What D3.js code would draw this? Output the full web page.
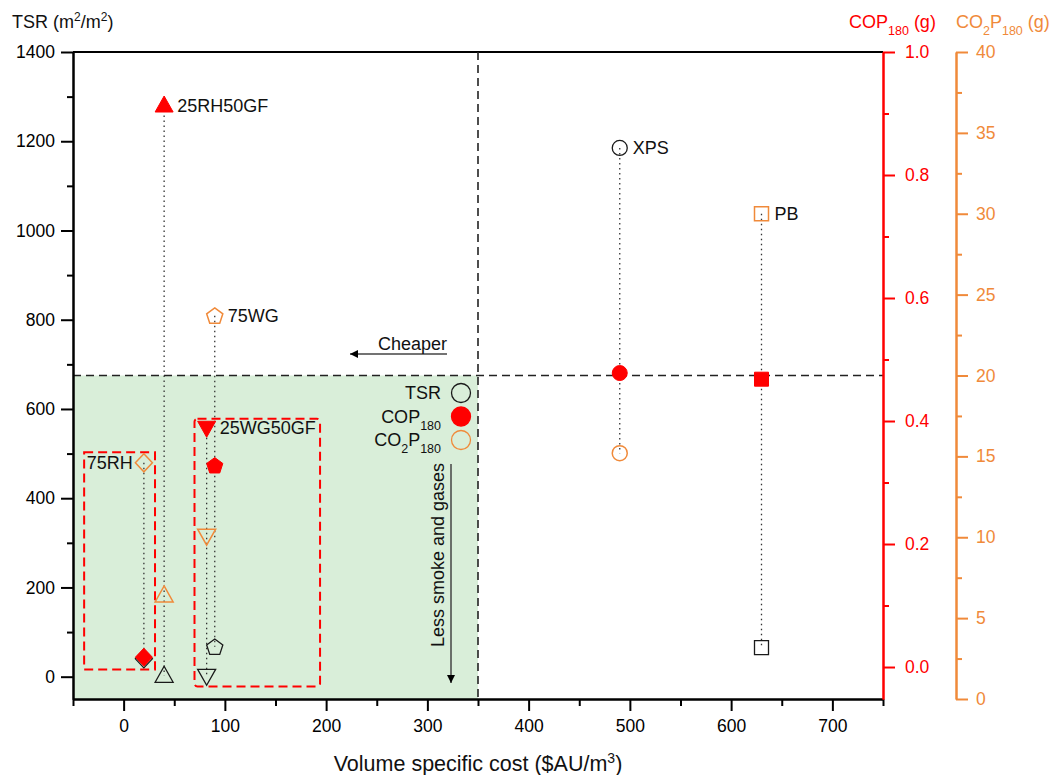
<!DOCTYPE html>
<html>
<head>
<meta charset="utf-8">
<script src="https://cdn.jsdelivr.net/npm/d3@7"></script>
<style>
  body { margin: 0; background: #fff; }
  svg { font-family: "Liberation Sans", Arial, sans-serif; }
</style>
</head>
<body>
<svg width="1051" height="775"></svg>
<script>
// Data
const materials = ['75RH', '25RH50GF', '75WG', '25WG50GF', 'XPS', 'PB'];
const shapes = ['diamond', 'triangle', 'pentagon', 'triangleDown', 'circle', 'square'];
const cost = [20, 40, 90, 82, 490, 630];
const tsr = [40, 2, 67, 2, 1185, 65];
const cop = [0.016, 0.913, 0.328, 0.389, 0.478, 0.468];
const co2p = [14.6, 6.4, 23.7, 10.1, 15.2, 30.0];
const labelSide = ['left', 'right', 'right', 'right', 'right', 'right'];

const xTicks = [0, 100, 200, 300, 400, 500, 600, 700];
const tsrTicks = [0, 200, 400, 600, 800, 1000, 1200, 1400];
const copTicks = [0, 0.2, 0.4, 0.6, 0.8, 1.0];
const co2pTicks = [0, 5, 10, 15, 20, 25, 30, 35, 40];

const costLimit = 350;   // vertical dashed line
const co2pLimit = 20;    // horizontal dashed line

// boxes around the wood-fibre samples [x0, x1, tsr0, tsr1]
const boxes = [[-39, 31, 16, 503], [70, 194, -22, 578]];

const width = 1051;
const height = 775;
const padding = { top: 52, right: 168, bottom: 76, left: 73 };
const svg = d3.select('svg');
const RED = '#ff0000';
const ORANGE = '#f08a3a';
const BLACK = '#1a1a1a';
const FS = '18px';

const xScale = d3.scaleLinear()
    .domain([-50, 750])
    .range([padding.left, width - padding.right]);
const yTsr = d3.scaleLinear()
    .domain([-50, 1400])
    .range([height - padding.bottom, padding.top]);
const yCop = d3.scaleLinear()
    .domain([-0.052, 1.0])
    .range([height - padding.bottom, padding.top]);
const yCo2p = d3.scaleLinear()
    .domain([0, 40])
    .range([height - padding.bottom, padding.top]);

const x0 = padding.left, x1 = width - padding.right;
const yBottom = height - padding.bottom, yTop = padding.top;

svg.append('rect').attr('width', width).attr('height', height).attr('fill', '#fff');

// green "better" region
svg.append('rect')
    .attr('x', x0)
    .attr('y', yCo2p(co2pLimit))
    .attr('width', xScale(costLimit) - x0)
    .attr('height', yBottom - yCo2p(co2pLimit))
    .attr('fill', '#d9eed9');

// frame top
svg.append('line')
    .attr('x1', x0).attr('x2', x1).attr('y1', yTop).attr('y2', yTop)
    .attr('stroke', '#000').attr('stroke-width', 2);

// dashed limit lines
svg.append('line')
    .attr('x1', xScale(costLimit)).attr('x2', xScale(costLimit))
    .attr('y1', yTop).attr('y2', yBottom)
    .attr('stroke', '#222').attr('stroke-width', 1.6).attr('stroke-dasharray', '8,5');
svg.append('line')
    .attr('x1', x0).attr('x2', x1)
    .attr('y1', yCo2p(co2pLimit)).attr('y2', yCo2p(co2pLimit))
    .attr('stroke', '#222').attr('stroke-width', 1.6).attr('stroke-dasharray', '8,5');

// red dashed boxes
boxes.forEach((b, i) => {
    svg.append('rect')
        .attr('x', xScale(b[0]))
        .attr('y', yTsr(b[3]))
        .attr('width', xScale(b[1]) - xScale(b[0]))
        .attr('height', yTsr(b[2]) - yTsr(b[3]))
        .attr('rx', i === 1 ? 3 : 0)
        .attr('fill', 'none')
        .attr('stroke', RED)
        .attr('stroke-width', 2)
        .attr('stroke-dasharray', '9,5');
});

// marker shapes
function shapePath(shape) {
    const p = d3.path();
    if (shape === 'circle') {
        p.arc(0, 0, 7.5, 0, 2 * Math.PI);
    } else if (shape === 'square') {
        p.rect(-7, -7, 14, 14);
    } else if (shape === 'diamond') {
        p.moveTo(0, -9); p.lineTo(8.5, 0); p.lineTo(0, 9); p.lineTo(-8.5, 0);
    } else if (shape === 'triangle') {
        p.moveTo(0, -9.5); p.lineTo(9, 6.5); p.lineTo(-9, 6.5);
    } else if (shape === 'triangleDown') {
        p.moveTo(0, 9.5); p.lineTo(9, -6.5); p.lineTo(-9, -6.5);
    } else if (shape === 'pentagon') {
        for (let k = 0; k < 5; k++) {
            const a = -Math.PI / 2 + k * 2 * Math.PI / 5;
            const px = 8.5 * Math.cos(a), py = 8.5 * Math.sin(a) + 0.8;
            if (k === 0) p.moveTo(px, py); else p.lineTo(px, py);
        }
    }
    p.closePath();
    return p.toString();
}

const points = materials.map((m, i) => ({
    name: m,
    shape: shapes[i],
    x: xScale(cost[i]),
    yT: yTsr(tsr[i]),
    yC: yCop(cop[i]),
    yO: yCo2p(co2p[i]),
    side: labelSide[i]
}));

// dotted connectors
svg.selectAll('line.conn')
    .data(points)
    .join('line')
    .attr('class', 'conn')
    .attr('x1', d => d.x).attr('x2', d => d.x)
    .attr('y1', d => Math.min(d.yT, d.yC, d.yO))
    .attr('y2', d => Math.max(d.yT, d.yC, d.yO))
    .attr('stroke', '#333')
    .attr('stroke-width', 1.3)
    .attr('stroke-dasharray', '1.5,3.5');

// TSR markers (open black)
svg.selectAll('path.tsr')
    .data(points)
    .join('path')
    .attr('class', 'tsr')
    .attr('d', d => shapePath(d.shape))
    .attr('transform', d => `translate(${d.x},${d.yT})`)
    .attr('fill', 'none')
    .attr('stroke', BLACK)
    .attr('stroke-width', 1.3);

// CO2P markers (open orange)
svg.selectAll('path.co2p')
    .data(points)
    .join('path')
    .attr('class', 'co2p')
    .attr('d', d => shapePath(d.shape))
    .attr('transform', d => `translate(${d.x},${d.yO})`)
    .attr('fill', 'none')
    .attr('stroke', ORANGE)
    .attr('stroke-width', 1.5);

// COP markers (filled red)
svg.selectAll('path.cop')
    .data(points)
    .join('path')
    .attr('class', 'cop')
    .attr('d', d => shapePath(d.shape))
    .attr('transform', d => `translate(${d.x},${d.yC})`)
    .attr('fill', RED)
    .attr('stroke', RED)
    .attr('stroke-width', 1);

// material labels next to the top marker
svg.selectAll('text.mat')
    .data(points)
    .join('text')
    .attr('class', 'mat')
    .text(d => d.name)
    .attr('x', d => d.side === 'left' ? d.x - 11 : d.x + 13)
    .attr('y', d => Math.min(d.yT, d.yC, d.yO))
    .attr('dy', '0.36em')
    .style('text-anchor', d => d.side === 'left' ? 'end' : 'start')
    .style('font-size', FS)
    .attr('fill', '#111');

// Axes
function styleAxis(g, color) {
    g.selectAll('path.domain').attr('stroke', color).attr('stroke-width', 2);
    g.selectAll('.tick line').attr('stroke', color).attr('stroke-width', 2);
    g.selectAll('.tick text').attr('fill', color)
        .style('font-size', '17.5px')
        .style('font-family', '"Liberation Sans", Arial, sans-serif');
}

const xMinor = d3.range(-50, 751, 100);
svg.append('g')
    .attr('transform', `translate(0, ${yBottom})`)
    .call(d3.axisBottom(xScale).tickValues(xMinor).tickSize(7).tickSizeOuter(0).tickFormat(''))
    .call(g => styleAxis(g, '#000'));
svg.append('g')
    .attr('transform', `translate(0, ${yBottom})`)
    .call(d3.axisBottom(xScale).tickValues(xTicks).tickSize(12).tickSizeOuter(0).tickPadding(9)
        .tickFormat(d3.format('d')))
    .call(g => styleAxis(g, '#000'));

const tsrMinor = d3.range(100, 1400, 200);
svg.append('g')
    .attr('transform', `translate(${x0}, 0)`)
    .call(d3.axisLeft(yTsr).tickValues(tsrMinor).tickSize(6).tickSizeOuter(0).tickFormat(''))
    .call(g => styleAxis(g, '#000'));
svg.append('g')
    .attr('transform', `translate(${x0}, 0)`)
    .call(d3.axisLeft(yTsr).tickValues(tsrTicks).tickSize(12).tickSizeOuter(0).tickPadding(6)
        .tickFormat(d3.format('d')))
    .call(g => styleAxis(g, '#000'));

const copMinor = d3.range(0.1, 1.0, 0.2);
svg.append('g')
    .attr('transform', `translate(${x1}, 0)`)
    .call(d3.axisRight(yCop).tickValues(copMinor).tickSize(6).tickSizeOuter(0).tickFormat(''))
    .call(g => styleAxis(g, RED));
svg.append('g')
    .attr('transform', `translate(${x1}, 0)`)
    .call(d3.axisRight(yCop).tickValues(copTicks).tickSize(12).tickSizeOuter(0).tickPadding(10)
        .tickFormat(d3.format('.1f')))
    .call(g => styleAxis(g, RED));

const co2pX = 956;
const co2pMinor = d3.range(2.5, 40, 5);
svg.append('g')
    .attr('transform', `translate(${co2pX}, 0)`)
    .call(d3.axisRight(yCo2p).tickValues(co2pMinor).tickSize(6).tickSizeOuter(0).tickFormat(''))
    .call(g => styleAxis(g, ORANGE));
svg.append('g')
    .attr('transform', `translate(${co2pX}, 0)`)
    .call(d3.axisRight(yCo2p).tickValues(co2pTicks).tickSize(12).tickSizeOuter(0).tickPadding(8))
    .call(g => styleAxis(g, ORANGE));

// Axis titles
const tsrTitle = svg.append('text')
    .attr('x', 12).attr('y', 28)
    .style('font-size', FS).attr('fill', '#111');
tsrTitle.append('tspan').text('TSR (m');
tsrTitle.append('tspan').text('2').attr('baseline-shift', 'super').style('font-size', '12px');
tsrTitle.append('tspan').text('/m');
tsrTitle.append('tspan').text('2').attr('baseline-shift', 'super').style('font-size', '12px');
tsrTitle.append('tspan').text(')');

const copTitle = svg.append('text')
    .attr('x', 849).attr('y', 28)
    .style('font-size', FS).attr('fill', RED);
copTitle.append('tspan').text('COP');
copTitle.append('tspan').text('180').attr('baseline-shift', 'sub').style('font-size', '12.5px');
copTitle.append('tspan').text(' (g)');

const co2pTitle = svg.append('text')
    .attr('x', 956).attr('y', 28)
    .style('font-size', FS).attr('fill', ORANGE);
co2pTitle.append('tspan').text('CO');
co2pTitle.append('tspan').text('2').attr('baseline-shift', 'sub').style('font-size', '12.5px');
co2pTitle.append('tspan').text('P');
co2pTitle.append('tspan').text('180').attr('baseline-shift', 'sub').style('font-size', '12.5px');
co2pTitle.append('tspan').text(' (g)');

const xTitle = svg.append('text')
    .attr('x', (x0 + x1) / 2).attr('y', 771)
    .style('text-anchor', 'middle')
    .style('font-size', '21.5px').attr('fill', '#111');
xTitle.append('tspan').text('Volume specific cost ($AU/m');
xTitle.append('tspan').text('3').attr('baseline-shift', 'super').style('font-size', '14px');
xTitle.append('tspan').text(')');

// Arrow annotations
svg.append('defs').append('marker')
    .attr('id', 'arrow')
    .attr('viewBox', '0 0 10 10')
    .attr('refX', 10).attr('refY', 5)
    .attr('markerWidth', 14).attr('markerHeight', 8)
    .attr('markerUnits', 'userSpaceOnUse')
    .attr('orient', 'auto')
    .append('path')
    .attr('d', 'M0,0 L10,5 L0,10 z')
    .attr('fill', '#000');

svg.append('line')
    .attr('x1', 447).attr('x2', 350).attr('y1', 354).attr('y2', 354)
    .attr('stroke', '#444').attr('stroke-width', 1.5)
    .attr('marker-end', 'url(#arrow)');
svg.append('text')
    .text('Cheaper')
    .attr('x', 447).attr('y', 350)
    .style('text-anchor', 'end')
    .style('font-size', FS).attr('fill', '#111');

svg.append('line')
    .attr('x1', 451).attr('x2', 451).attr('y1', 464).attr('y2', 683)
    .attr('stroke', '#444').attr('stroke-width', 1.5)
    .attr('marker-end', 'url(#arrow)');
svg.append('text')
    .text('Less smoke and gases')
    .attr('transform', 'translate(444, 463) rotate(-90)')
    .style('text-anchor', 'end')
    .style('font-size', FS).attr('fill', '#111');

// Legend
const legendItems = [
    { name: 'TSR', fill: 'none', stroke: BLACK },
    { name: 'COP', sub1: null, sub2: '180', fill: RED, stroke: RED },
    { name: 'CO', sub1: '2', sub2: '180', fill: 'none', stroke: ORANGE }
];
const legend = svg.append('g').attr('transform', 'translate(441, 393)');
legendItems.forEach((item, i) => {
    const row = legend.append('g').attr('transform', `translate(0, ${i * 23.5})`);
    row.append('circle')
        .attr('cx', 20).attr('cy', 0).attr('r', 9.5)
        .attr('fill', item.fill).attr('stroke', item.stroke).attr('stroke-width', 1.3);
    const t = row.append('text')
        .attr('x', 0).attr('y', 0).attr('dy', '0.36em')
        .style('text-anchor', 'end')
        .style('font-size', FS).attr('fill', '#111');
    t.append('tspan').text(item.name);
    if (item.sub1) {
        t.append('tspan').text(item.sub1).attr('baseline-shift', 'sub').style('font-size', '12.5px');
        t.append('tspan').text('P');
    }
    if (item.sub2) {
        t.append('tspan').text(item.sub2).attr('baseline-shift', 'sub').style('font-size', '12.5px');
    }
});
</script>
</body>
</html>
